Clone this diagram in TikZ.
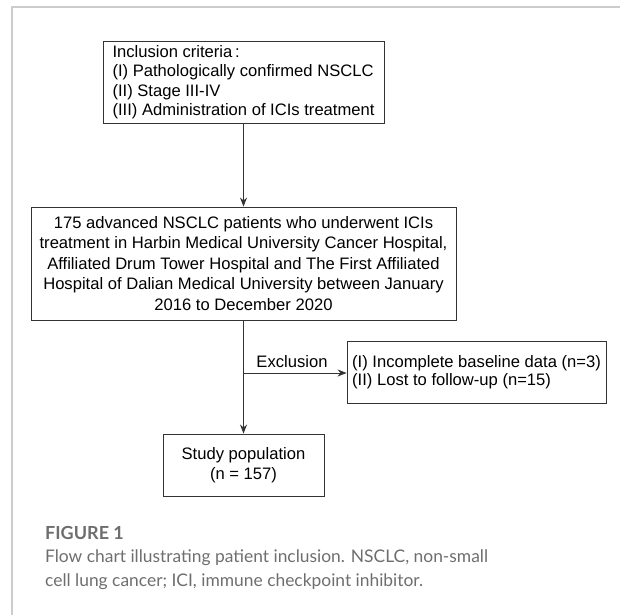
\documentclass[tikz,border=0pt]{standalone}
\usepackage{fontspec}
\setmainfont{Liberation Sans}
\newfontfamily\capfont{Lato}
\usetikzlibrary{arrows.meta}
\definecolor{framegray}{HTML}{CCCCCC}
\definecolor{boxline}{HTML}{333333}
\definecolor{capgray}{HTML}{6E6E6E}
\tikzset{
  flowbox/.style={draw=boxline, line width=0.9pt, inner sep=0pt, font=\fontsize{16.6}{20.5}\selectfont, text=black},
  conn/.style={draw=boxline, line width=0.9pt},
  arr/.style={conn, -{Stealth[length=9pt,width=7pt]}},
  captext/.style={inner sep=0pt, anchor=west, text=capgray, font=\capfont\fontsize{17.4}{20}\selectfont},
  frameline/.style={draw=framegray, line width=1.3pt}
}
\begin{document}
\begin{tikzpicture}[x=1pt,y=-1pt]
\useasboundingbox (0,0) rectangle (620,615);
% frame
\draw[frameline] (12,615) -- (12,7) -- (620,7);
% boxes
\node[flowbox, minimum width=281pt, minimum height=82pt, align=left, font=\fontsize{16.6}{19.5}\selectfont] (inc) at (243.5,82)
  {Inclusion criteria\,:\\(I) Pathologically confirmed NSCLC\\(II) Stage III-IV\\(III) Administration of ICIs treatment};
\node[flowbox, minimum width=425pt, minimum height=113pt, align=center] (pop) at (243.5,263.5)
  {175 advanced NSCLC patients who underwent ICIs\\treatment in Harbin Medical University Cancer Hospital,\\Affiliated Drum Tower Hospital and The First Affiliated\\Hospital of Dalian Medical University between January\\2016 to December 2020};
\node[flowbox, minimum width=259pt, minimum height=62pt, align=left, font=\fontsize{16.6}{18.5}\selectfont] (exc) at (476.5,372)
  {(I) Incomplete baseline data (n=3)\\(II) Lost to follow-up (n=15)};
\node[flowbox, minimum width=161pt, minimum height=62pt, align=center, font=\fontsize{16.6}{20}\selectfont] (study) at (243.5,465)
  {Study population\\(n = 157)};
% connectors
\draw[arr] (inc.south) -- (pop.north);
\draw[arr] (pop.south) -- (study.north);
\coordinate (br) at (243.5,373);
\draw[arr] (br) -- (br -| exc.west);
\node[inner sep=0pt, font=\fontsize{16.6}{19.5}\selectfont] (exlab) at (292,362) {Exclusion};
% caption
\node[captext, font=\capfont\bfseries\fontsize{18}{20}\selectfont] (fig) at (45,533) {FIGURE 1};
\node[captext] (cap1) at (45,558) {Flow chart illustrating patient inclusion. NSCLC, non-small};
\node[captext] (cap2) at (45,582) {cell lung cancer; ICI, immune checkpoint inhibitor.};
\end{tikzpicture}
\end{document}
